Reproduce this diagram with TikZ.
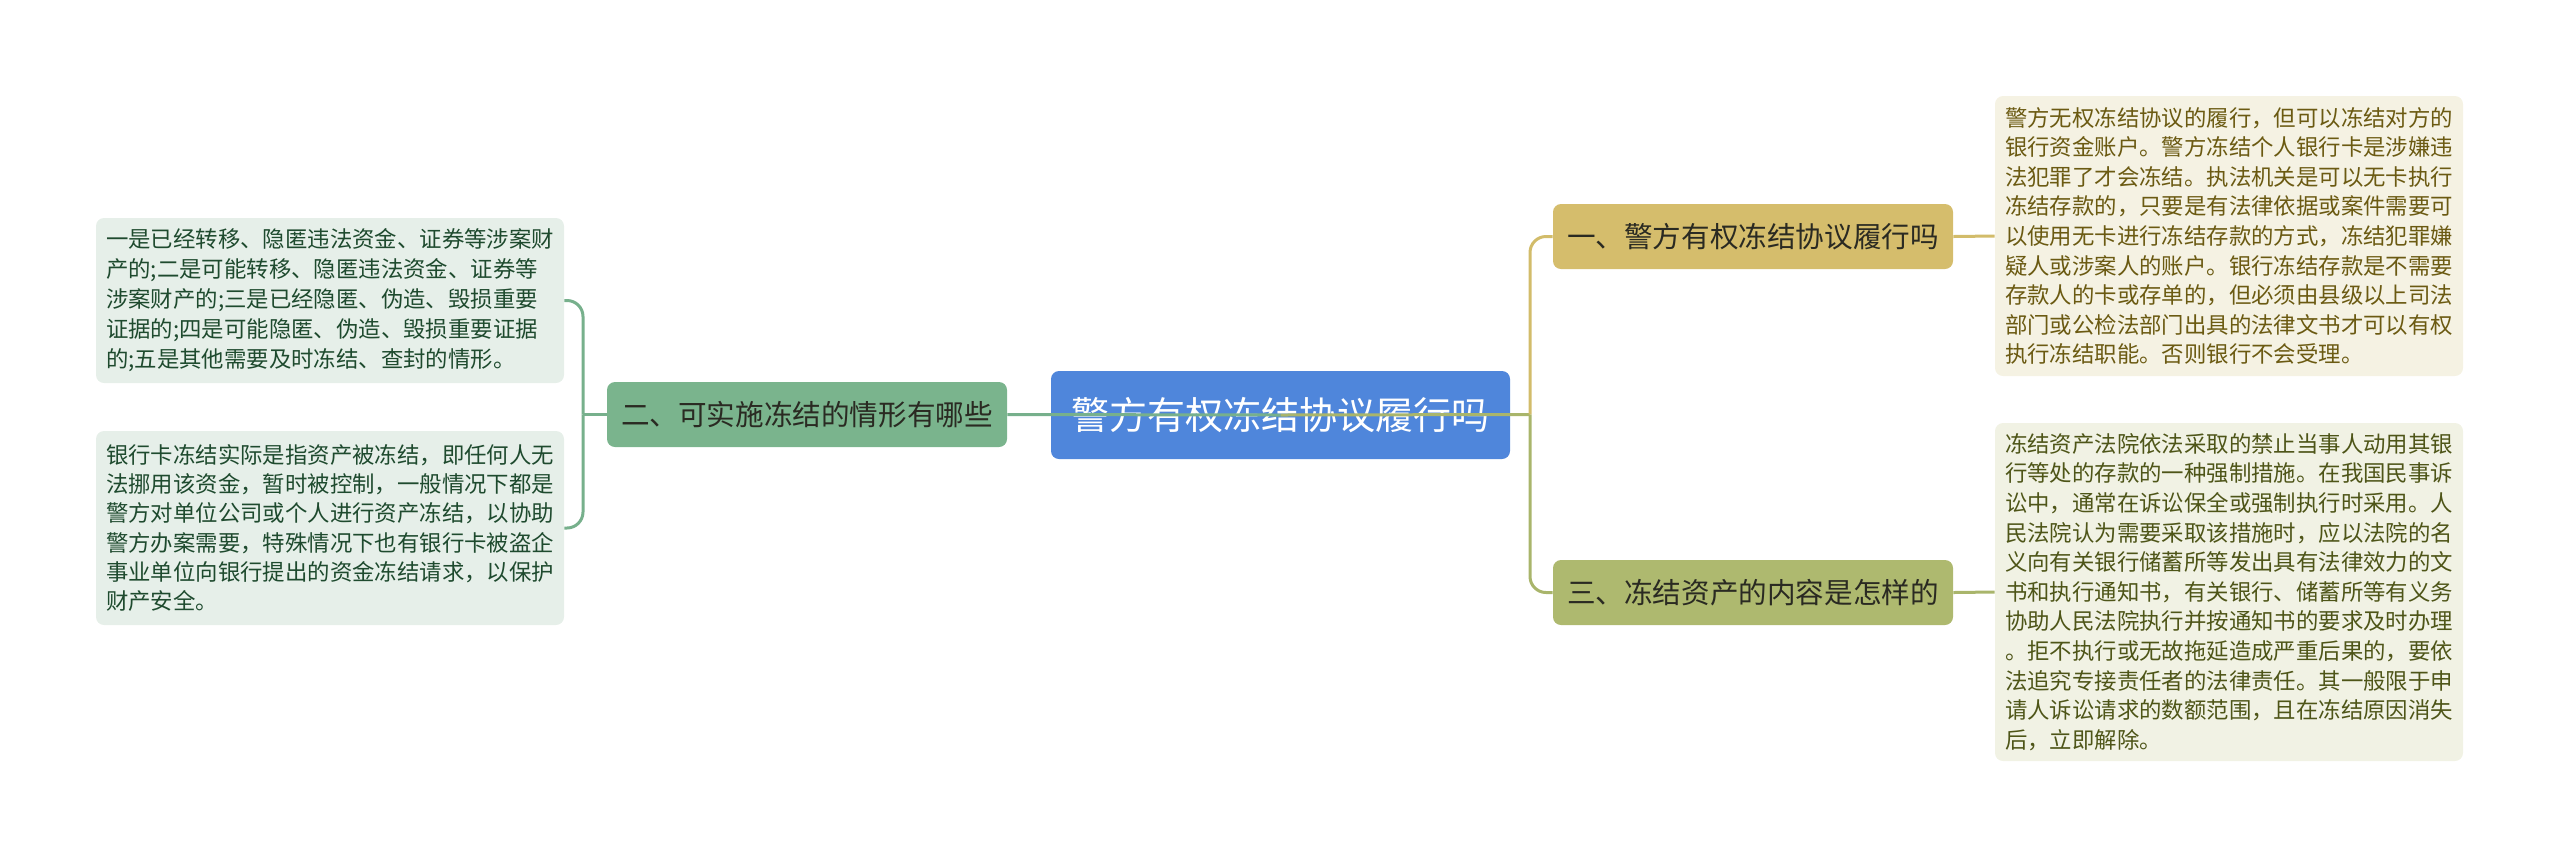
\documentclass[tikz,border=0pt]{standalone}
\usepackage{fontspec}
\setmainfont{Noto Sans CJK SC}
\definecolor{cblue}{HTML}{4F86DB}
\definecolor{gfill}{HTML}{7AB48D}
\definecolor{gline}{HTML}{77B08C}
\definecolor{lfill}{HTML}{E6EFE9}
\definecolor{ltext}{HTML}{1E4A2E}
\definecolor{yfill}{HTML}{D5BD6C}
\definecolor{yline}{HTML}{D2BC6A}
\definecolor{r1fill}{HTML}{F5F2E3}
\definecolor{r1text}{HTML}{6B5A12}
\definecolor{ofill}{HTML}{AEB96F}
\definecolor{oline}{HTML}{A9B56B}
\definecolor{r2fill}{HTML}{F1F2E4}
\definecolor{r2text}{HTML}{4E5518}
\definecolor{btext}{HTML}{2A2A22}
\begin{document}
\begin{tikzpicture}[x=0.5pt,y=-0.5pt,
  box/.style={rounded corners=4pt, inner sep=0pt, align=center},
  central/.style={box, fill=cblue, text=white, minimum width=229.5pt, minimum height=44pt, font=\fontsize{19pt}{22pt}\selectfont},
  branch/.style={box, minimum width=200pt, minimum height=32.5pt, text=btext, font=\fontsize{14.3pt}{17pt}\selectfont},
  leaf/.style={box, minimum width=234pt, text width=224pt, align=left, font=\fontsize{11.2pt}{14.8pt}\selectfont},
  conn/.style={line width=1.5pt},
  roundconn/.style={conn, rounded corners=8pt}
]
\useasboundingbox (0,0) rectangle (2560,859);

\node[central] (c) at (1280.5,415) {警方有权冻结协议履行吗};

\node[branch, fill=gfill] (b2) at (807,414.5) {二、可实施冻结的情形有哪些};
\node[branch, fill=yfill] (b1) at (1753,236.5) {一、警方有权冻结协议履行吗};
\node[branch, fill=ofill] (b3) at (1753,592.5) {三、冻结资产的内容是怎样的};

\node[leaf, fill=lfill, text=ltext, minimum height=82.5pt, font=\fontsize{11.2pt}{15pt}\selectfont] (l1) at (330,300.5) {一是已经转移、隐匿违法资金、证券等涉案财\\产的;二是可能转移、隐匿违法资金、证券等\\涉案财产的;三是已经隐匿、伪造、毁损重要\\证据的;四是可能隐匿、伪造、毁损重要证据\\的;五是其他需要及时冻结、查封的情形。};

\node[leaf, fill=lfill, text=ltext, minimum height=97pt, font=\fontsize{11.2pt}{14.6pt}\selectfont] (l2) at (330,528) {银行卡冻结实际是指资产被冻结，即任何人无\\法挪用该资金，暂时被控制，一般情况下都是\\警方对单位公司或个人进行资产冻结，以协助\\警方办案需要，特殊情况下也有银行卡被盗企\\事业单位向银行提出的资金冻结请求，以保护\\财产安全。};

\node[leaf, fill=r1fill, text=r1text, minimum height=140pt] (r1) at (2229,236) {警方无权冻结协议的履行，但可以冻结对方的\\银行资金账户。警方冻结个人银行卡是涉嫌违\\法犯罪了才会冻结。执法机关是可以无卡执行\\冻结存款的，只要是有法律依据或案件需要可\\以使用无卡进行冻结存款的方式，冻结犯罪嫌\\疑人或涉案人的账户。银行冻结存款是不需要\\存款人的卡或存单的，但必须由县级以上司法\\部门或公检法部门出具的法律文书才可以有权\\执行冻结职能。否则银行不会受理。};

\node[leaf, fill=r2fill, text=r2text, minimum height=169pt] (r2) at (2229,592) {冻结资产法院依法采取的禁止当事人动用其银\\行等处的存款的一种强制措施。在我国民事诉\\讼中，通常在诉讼保全或强制执行时采用。人\\民法院认为需要采取该措施时，应以法院的名\\义向有关银行储蓄所等发出具有法律效力的文\\书和执行通知书，有关银行、储蓄所等有义务\\协助人民法院执行并按通知书的要求及时办理\\。拒不执行或无故拖延造成严重后果的，要依\\法追究专接责任者的法律责任。其一般限于申\\请人诉讼请求的数额范围，且在冻结原因消失\\后，立即解除。};

\coordinate (jl) at (583,414.5);
\coordinate (jr) at (1530,414.5);

\draw[conn, gline] (c.center) -- (b2.east);
\draw[conn, gline] (b2.west) -- (jl);
\draw[roundconn, gline] (jl) |- (l1.east);
\draw[roundconn, gline] (jl) |- (l2.east);

\draw[conn, oline] (c.center) -- (jr);
\draw[roundconn, yline] (jr) |- (b1.west);
\draw[roundconn, oline] (jr) |- (b3.west);
\draw[conn, yline] (b1.east) -- (r1.west);
\draw[conn, oline] (b3.east) -- (r2.west);
\end{tikzpicture}
\end{document}
